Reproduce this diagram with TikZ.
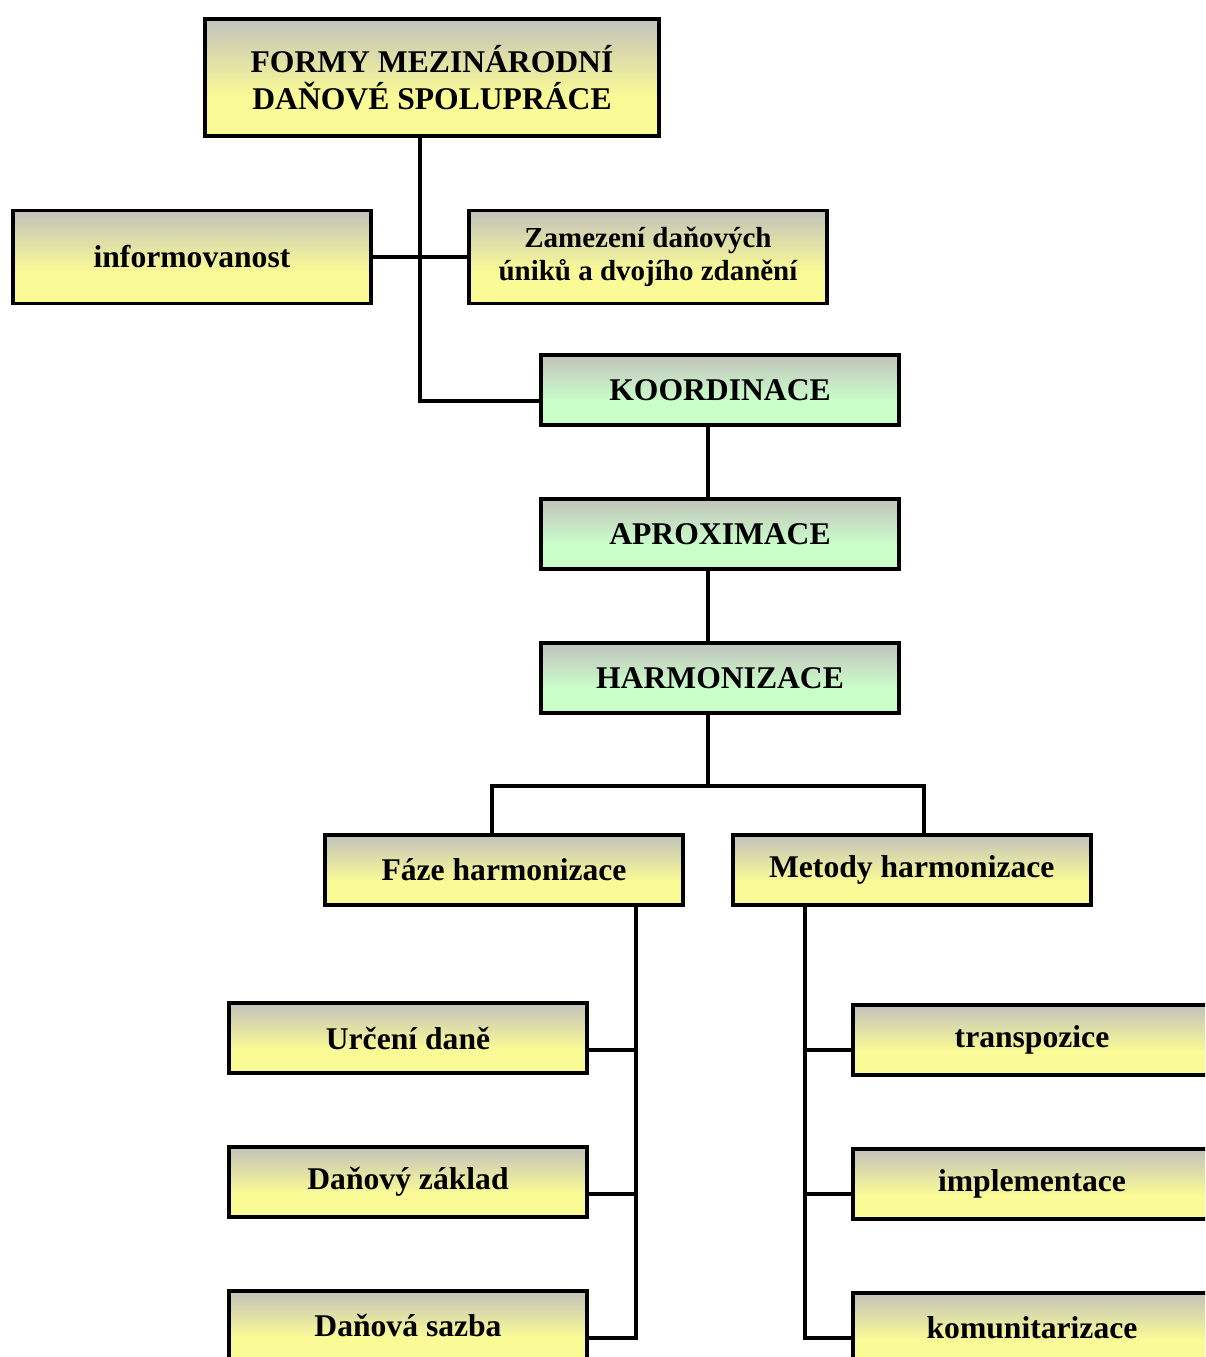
\documentclass[tikz,border=0pt]{standalone}
\usepackage{fontspec}
\setmainfont{Liberation Serif}
\usetikzlibrary{positioning, calc}

\definecolor{boxgray}{RGB}{194,194,188}
\definecolor{boxyellow}{RGB}{250,250,150}
\definecolor{boxgreen}{RGB}{202,255,202}

\pgfdeclareverticalshading{yfade}{100bp}{color(0bp)=(boxyellow); color(25bp)=(boxyellow);
  color(42bp)=(boxyellow); color(75bp)=(boxgray); color(100bp)=(boxgray)}
\pgfdeclareverticalshading{gfade}{100bp}{color(0bp)=(boxgreen); color(25bp)=(boxgreen);
  color(42bp)=(boxgreen); color(75bp)=(boxgray); color(100bp)=(boxgray)}

\tikzset{
  ybox/.style={draw, line width=2.2pt, shade, shading=yfade,
               minimum width=7.16cm, minimum height=1.4cm, align=center,
               font=\fontsize{18}{21}\selectfont\bfseries, inner sep=0pt},
  gbox/.style={ybox, shading=gfade},
  link/.style={line width=2.6pt}
}

\begin{document}
\begin{tikzpicture}[x=0.02cm, y=-0.02cm]
  \clip (0,0) rectangle (1205,1357);

  % Top of the tree
  \node[ybox, minimum width=9.08cm, minimum height=2.34cm] (formy) at (432,77.5)
    {FORMY MEZINÁRODNÍ\\DAŇOVÉ SPOLUPRÁCE};
  \node[ybox, minimum height=1.86cm] (info) at (192,257) {informovanost};
  \node[ybox, minimum height=1.86cm, font=\fontsize{16.5}{18.7}\selectfont\bfseries]
    (zamez) at (648,257) {Zamezení daňových\\úniků a dvojího zdanění};

  % Green stack
  \node[gbox] (koord) at (720,390) {KOORDINACE};
  \node[gbox, below=1.4cm of koord] (aprox) {APROXIMACE};
  \node[gbox, below=1.4cm of aprox] (harm) {HARMONIZACE};

  % Two branches
  \node[ybox] (faze) at (504,870) {Fáze harmonizace};
  \node[ybox, right=0.92cm of faze] (metody) {Metody harmonizace};

  \node[ybox] (urceni) at (408,1038) {Určení daně};
  \node[ybox, below=1.4cm of urceni] (zaklad) {Daňový základ};
  \node[ybox, below=1.4cm of zaklad] (sazba) {Daňová sazba};

  \node[ybox] (transp) at (1032,1040) {transpozice};
  \node[ybox, below=1.4cm of transp] (implem) {implementace};
  \node[ybox, below=1.4cm of implem] (komun) {komunitarizace};

  % Trunks
  \coordinate (trunk) at (420,401);
  \coordinate (spine) at (708,786);
  \coordinate (lsplit) at (492,786);
  \coordinate (rsplit) at (924,786);
  \coordinate (lspine) at (636,1338);
  \coordinate (rspine) at (805,1338);

  \draw[link] (formy.south -| trunk) -- (trunk) -- (trunk -| koord.west);
  \draw[link] (info.east) -- (zamez.west);
  \draw[link] (koord.south -| spine) -- (aprox.north -| spine);
  \draw[link] (aprox.south -| spine) -- (harm.north -| spine);
  \draw[link] (harm.south -| spine) -- (spine);
  \draw[link] (faze.north -| lsplit) -- (lsplit) -- (rsplit) -- (metody.north -| rsplit);

  % Left column
  \draw[link] (faze.south -| lspine) -- (lspine) -- (lspine -| sazba.east);
  \draw[link] ([yshift=-0.24cm]urceni.east) -- ([yshift=-0.24cm]urceni.east -| lspine);
  \draw[link] ([yshift=-0.24cm]zaklad.east) -- ([yshift=-0.24cm]zaklad.east -| lspine);

  % Right column
  \draw[link] (metody.south -| rspine) -- (rspine) -- (rspine -| komun.west);
  \draw[link] ([yshift=-0.2cm]transp.west) -- ([yshift=-0.2cm]transp.west -| rspine);
  \draw[link] ([yshift=-0.2cm]implem.west) -- ([yshift=-0.2cm]implem.west -| rspine);
\end{tikzpicture}
\end{document}
